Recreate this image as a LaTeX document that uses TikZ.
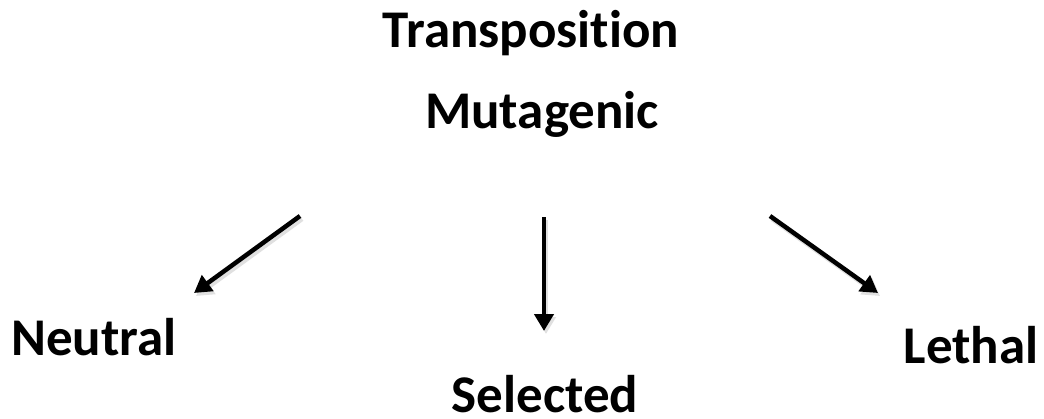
\documentclass[tikz,border=0pt]{standalone}
\usepackage{fontspec}
\setmainfont[Ligatures=NoCommon]{Carlito}
\usetikzlibrary{arrows.meta}
\begin{document}
\begin{tikzpicture}[x=1pt,y=-1pt,
  label text/.style={font=\fontsize{53}{62}\selectfont\bfseries, inner sep=0pt, anchor=base},
  branch/.style={line width=4.5pt, -{Triangle[length=17pt,width=19pt]}}]
  \useasboundingbox[fill=white] (0,0) rectangle (1044,418);

  % labels
  \node[label text] (trans) at (531,47) {Transposition};
  \node[label text] (mut)   at (542,128) {Mutagenic};
  \node[label text] (neu)   at (94,355) {Neutral};
  \node[label text] (sel)   at (545,412) {Selected};
  \node[label text] (let)   at (971,363) {Lethal};

  % arrow ends
  \coordinate (lA) at (300,216);
  \coordinate (lB) at (194,293);
  \coordinate (mA) at (544,217);
  \coordinate (mB) at (544,331);
  \coordinate (rA) at (770,216);
  \coordinate (rB) at (878,293);

  % soft shadows under the arrows
  \foreach \a/\b in {lA/lB, mA/mB, rA/rB}{
    \draw[branch, draw=black!12, fill=black!12, transform canvas={xshift=2pt,yshift=-3pt}] (\a) -- (\b);
  }
  % arrows
  \draw[branch] (lA) -- (lB);
  \draw[branch] (mA) -- (mB);
  \draw[branch] (rA) -- (rB);
\end{tikzpicture}
\end{document}
